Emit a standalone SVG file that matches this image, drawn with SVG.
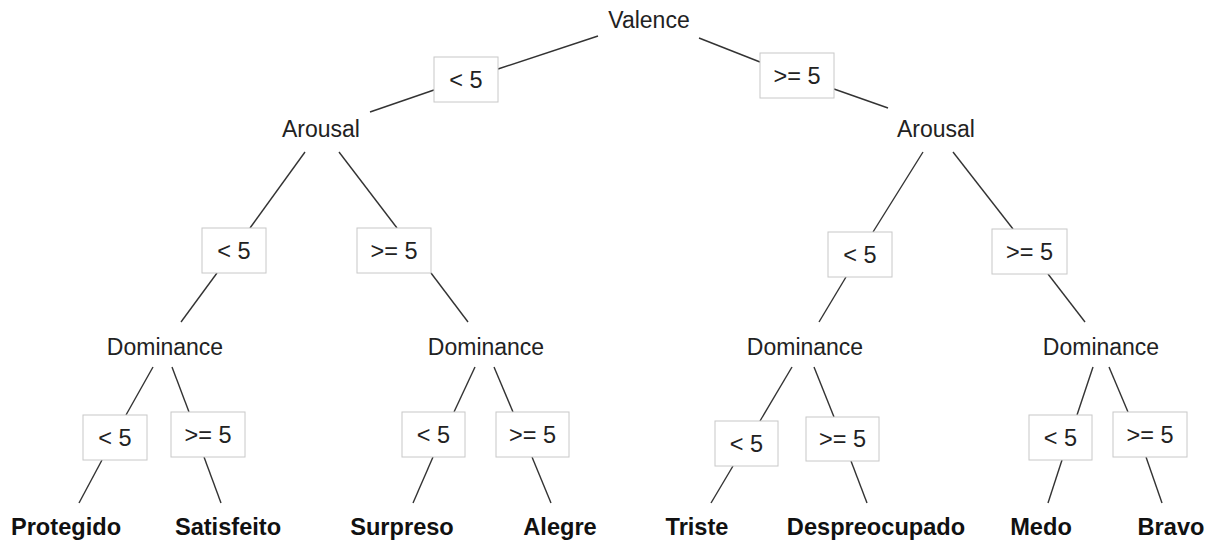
<svg xmlns="http://www.w3.org/2000/svg" width="1218" height="543" viewBox="0 0 1218 543">
  <style>
    .node { font-family: "Liberation Sans", Arial, Helvetica, sans-serif; font-size: 23px; fill: #222; text-anchor: middle; }
    .leaf { font-family: "Liberation Sans", Arial, Helvetica, sans-serif; font-size: 23.6px; font-weight: bold; fill: #111; text-anchor: middle; }
    .edge line { stroke: #333; stroke-width: 1.4; }
    .cond rect { fill: #fff; stroke: #c8c8c8; stroke-width: 1; }
    .cond text { font-family: "Liberation Sans", Arial, Helvetica, sans-serif; font-size: 23.5px; fill: #222; text-anchor: middle; }
  </style>
  <rect width="1218" height="543" fill="#fff"/>

  <!-- connectors: node -> condition box -> child -->
  <g id="connectors" class="edge">
    <line x1="598" y1="36" x2="498" y2="69"/>
    <line x1="434" y1="90" x2="370" y2="112"/>
    <line x1="699" y1="38" x2="760" y2="62"/>
    <line x1="834" y1="89" x2="888" y2="108"/>

    <line x1="305" y1="152" x2="250" y2="228"/>
    <line x1="217" y1="273" x2="181" y2="322"/>
    <line x1="339" y1="152" x2="397" y2="228"/>
    <line x1="431" y1="273" x2="468" y2="322"/>

    <line x1="923" y1="152" x2="873" y2="232"/>
    <line x1="846" y1="277" x2="819" y2="322"/>
    <line x1="953" y1="152" x2="1013" y2="229"/>
    <line x1="1048" y1="274" x2="1085" y2="322"/>

    <line x1="153" y1="367" x2="126" y2="415"/>
    <line x1="102" y1="460" x2="79" y2="503"/>
    <line x1="172" y1="367" x2="189" y2="412"/>
    <line x1="204" y1="457" x2="221" y2="503"/>

    <line x1="475" y1="367" x2="454" y2="412"/>
    <line x1="433" y1="457" x2="413" y2="503"/>
    <line x1="494" y1="367" x2="513" y2="412"/>
    <line x1="532" y1="457" x2="551" y2="503"/>

    <line x1="792" y1="367" x2="760" y2="421"/>
    <line x1="733" y1="466" x2="711" y2="503"/>
    <line x1="814" y1="367" x2="834" y2="417"/>
    <line x1="851" y1="461" x2="867" y2="503"/>

    <line x1="1093" y1="367" x2="1077" y2="415"/>
    <line x1="1062" y1="460" x2="1048" y2="503"/>
    <line x1="1109" y1="367" x2="1128" y2="412"/>
    <line x1="1146" y1="457" x2="1162" y2="503"/>
  </g>

  <!-- condition boxes -->
  <g id="cond-valence-lt" class="cond"><rect x="434" y="57" width="64" height="45"/><text x="466" y="88">&lt; 5</text></g>
  <g id="cond-valence-ge" class="cond"><rect x="760" y="53" width="74" height="45"/><text x="797" y="84">&gt;= 5</text></g>

  <g id="cond-arousal1-lt" class="cond"><rect x="202" y="228" width="64" height="45"/><text x="234" y="259">&lt; 5</text></g>
  <g id="cond-arousal1-ge" class="cond"><rect x="357" y="228" width="74" height="45"/><text x="394" y="259">&gt;= 5</text></g>
  <g id="cond-arousal2-lt" class="cond"><rect x="828" y="232" width="64" height="45"/><text x="860" y="263">&lt; 5</text></g>
  <g id="cond-arousal2-ge" class="cond"><rect x="992" y="229" width="75" height="45"/><text x="1029.5" y="260">&gt;= 5</text></g>

  <g id="cond-dom1-lt" class="cond"><rect x="83" y="415" width="64" height="45"/><text x="115" y="446">&lt; 5</text></g>
  <g id="cond-dom1-ge" class="cond"><rect x="171" y="412" width="74" height="45"/><text x="208" y="443">&gt;= 5</text></g>
  <g id="cond-dom2-lt" class="cond"><rect x="402" y="412" width="63" height="45"/><text x="433.5" y="443">&lt; 5</text></g>
  <g id="cond-dom2-ge" class="cond"><rect x="496" y="412" width="73" height="45"/><text x="532.5" y="443">&gt;= 5</text></g>
  <g id="cond-dom3-lt" class="cond"><rect x="715" y="421" width="63" height="45"/><text x="746.5" y="452">&lt; 5</text></g>
  <g id="cond-dom3-ge" class="cond"><rect x="806" y="417" width="73" height="44"/><text x="842.5" y="447">&gt;= 5</text></g>
  <g id="cond-dom4-lt" class="cond"><rect x="1029" y="415" width="63" height="45"/><text x="1060.5" y="446">&lt; 5</text></g>
  <g id="cond-dom4-ge" class="cond"><rect x="1113" y="412" width="74" height="45"/><text x="1150" y="443">&gt;= 5</text></g>

  <!-- decision nodes -->
  <g id="valence"><text class="node" x="649" y="28">Valence</text></g>
  <g id="arousal-1"><text class="node" x="321" y="137">Arousal</text></g>
  <g id="arousal-2"><text class="node" x="936" y="137">Arousal</text></g>
  <g id="dominance-1"><text class="node" x="165" y="355">Dominance</text></g>
  <g id="dominance-2"><text class="node" x="486" y="355">Dominance</text></g>
  <g id="dominance-3"><text class="node" x="805" y="355">Dominance</text></g>
  <g id="dominance-4"><text class="node" x="1101" y="355">Dominance</text></g>

  <!-- leaves -->
  <g id="protegido"><text class="leaf" x="66" y="535">Protegido</text></g>
  <g id="satisfeito"><text class="leaf" x="228" y="535">Satisfeito</text></g>
  <g id="surpreso"><text class="leaf" x="402" y="535">Surpreso</text></g>
  <g id="alegre"><text class="leaf" x="560" y="535">Alegre</text></g>
  <g id="triste"><text class="leaf" x="697" y="535">Triste</text></g>
  <g id="despreocupado"><text class="leaf" x="876" y="535">Despreocupado</text></g>
  <g id="medo"><text class="leaf" x="1041" y="535">Medo</text></g>
  <g id="bravo"><text class="leaf" x="1171" y="535">Bravo</text></g>
</svg>
